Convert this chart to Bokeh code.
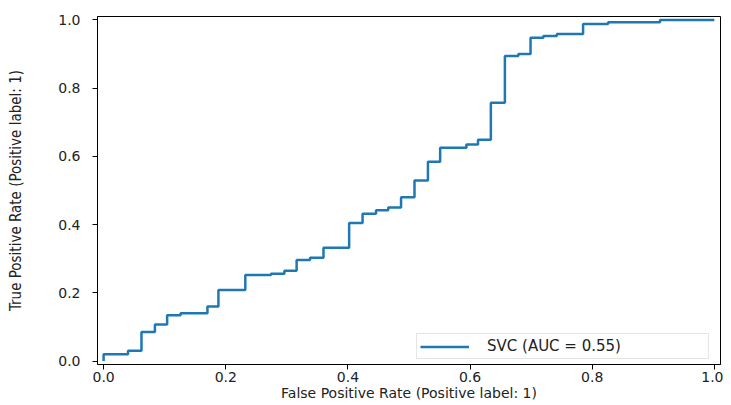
from bokeh.plotting import figure
from bokeh.models import Range1d, FixedTicker, PrintfTickFormatter, Legend, LegendItem
from bokeh.embed import file_html
from bokeh.resources import INLINE

# ROC curve corner points (fpr where step occurs, tpr after step)
fpr = [0.0, 0.0, 0.04, 0.062, 0.084, 0.104, 0.126, 0.17, 0.188, 0.232, 0.274,
       0.296, 0.316, 0.338, 0.36, 0.402, 0.424, 0.446, 0.466, 0.487, 0.509,
       0.531, 0.551, 0.594, 0.613, 0.634, 0.657, 0.679, 0.699, 0.72, 0.742,
       0.785, 0.826, 0.911, 1.0]
tpr = [0.0, 0.02, 0.03, 0.085, 0.107, 0.134, 0.14, 0.16, 0.208, 0.252, 0.256,
       0.265, 0.296, 0.303, 0.332, 0.405, 0.432, 0.442, 0.45, 0.48, 0.529,
       0.584, 0.625, 0.635, 0.649, 0.757, 0.894, 0.9, 0.948, 0.953, 0.959,
       0.988, 0.993, 1.0, 1.0]
ticks = [0.0, 0.2, 0.4, 0.6, 0.8, 1.0]
legend_label = "SVC (AUC = 0.55)"

p = figure(width=723, height=404, output_backend="svg", toolbar_location=None,
           x_range=Range1d(-0.01, 1.01), y_range=Range1d(-0.01, 1.01),
           min_border_left=97, min_border_right=3, min_border_top=16, min_border_bottom=40)

r = p.step(fpr, tpr, mode="after", line_color="#1f77b4", line_width=2.5)

p.xgrid.visible = False
p.ygrid.visible = False
p.outline_line_color = "black"
p.outline_line_width = 1
p.background_fill_color = "white"
p.border_fill_color = "white"

for ax in (p.xaxis[0], p.yaxis[0]):
    ax.ticker = FixedTicker(ticks=ticks)
    ax.formatter = PrintfTickFormatter(format="%.1f")
    ax.minor_tick_line_color = None
    ax.major_tick_in = 0
    ax.major_tick_out = 5
    ax.axis_line_color = "black"
    ax.major_tick_line_color = "black"
    ax.major_label_text_font = "DejaVu Sans"
    ax.major_label_text_font_size = "14px"
    ax.major_label_text_color = "#222222"
    ax.axis_label_text_font_style = "normal"
    ax.axis_label_text_color = "#222222"

p.xaxis[0].axis_label = "False Positive Rate (Positive label: 1)"
p.xaxis[0].axis_label_text_font = "DejaVu Sans"
p.xaxis[0].axis_label_text_font_size = "14px"
p.xaxis[0].major_label_standoff = 2
p.xaxis[0].axis_label_standoff = 0

p.yaxis[0].axis_label = "True Positive Rate (Positive label: 1)"
p.yaxis[0].axis_label_text_font = "DejaVu Sans Condensed"
p.yaxis[0].axis_label_text_font_size = "15px"
p.yaxis[0].major_label_standoff = 12
p.yaxis[0].axis_label_standoff = 30

legend = Legend(items=[LegendItem(label=legend_label, renderers=[r])],
                location=(319, 5), orientation="vertical")
legend.padding = 3
legend.glyph_width = 49
legend.glyph_height = 15
legend.label_standoff = 18
legend.label_width = 218
legend.label_text_font = "DejaVu Sans"
legend.label_text_font_size = "15px"
legend.label_text_color = "#222222"
legend.border_line_color = "#cccccc"
legend.border_line_width = 1
legend.background_fill_color = "white"
legend.background_fill_alpha = 0.8
p.add_layout(legend, "center")

open("out.html", "w").write(file_html(p, INLINE))
